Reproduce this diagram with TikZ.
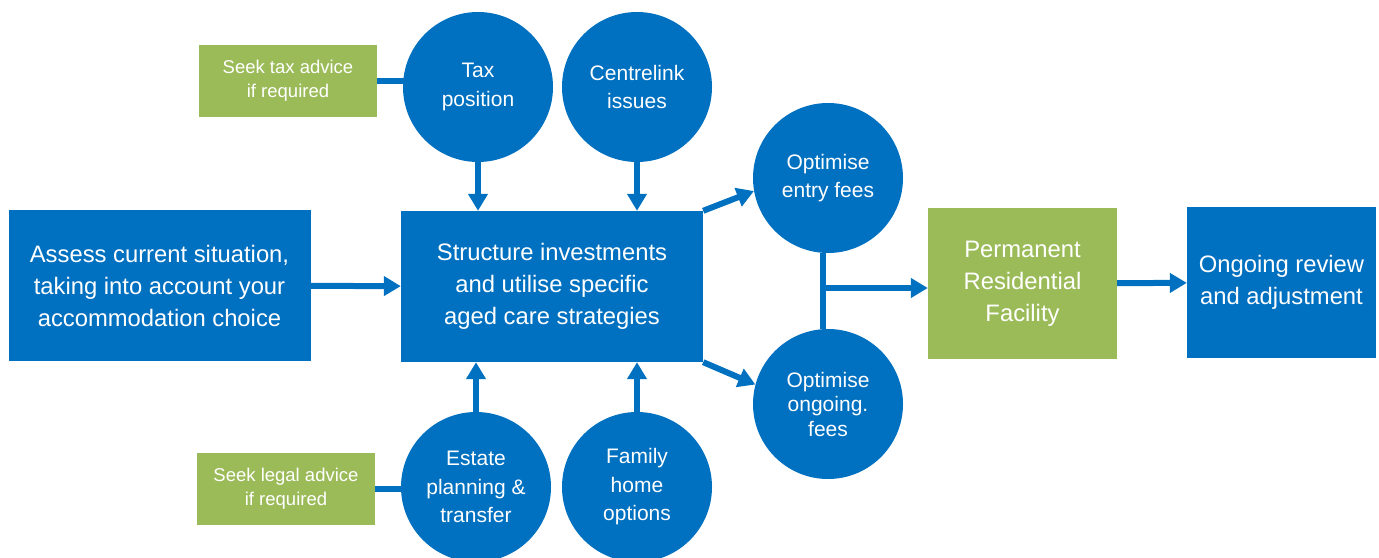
\documentclass[tikz,border=0pt]{standalone}
\usepackage{fontspec}
\setmainfont{Liberation Sans}
\usetikzlibrary{arrows.meta}
\definecolor{cblue}{RGB}{0,112,192}
\definecolor{cgreen}{RGB}{155,187,89}
\tikzset{
  box/.style={fill=cblue, text=white, minimum width=302pt, minimum height=151pt,
    inner sep=0pt, align=center, font=\fontsize{23.8}{32}\selectfont},
  gbox/.style={box, fill=cgreen, minimum width=189pt},
  bub/.style={circle, fill=cblue, text=white, minimum size=150pt, inner sep=0pt,
    align=center, font=\fontsize{21}{28.5}\selectfont},
  note/.style={fill=cgreen, text=white, minimum width=178pt, minimum height=72pt,
    inner sep=0pt, align=center, font=\fontsize{18.5}{24}\selectfont},
  link/.style={draw=cblue, line width=6pt},
  arrow/.style={link, -{Triangle[length=17pt,width=19pt]}}
}
\begin{document}
\begin{tikzpicture}[x=1pt, y=-1pt]
    \useasboundingbox (0,0) rectangle (1379,557);
    \node[box] (assess) at (159.5,285.5) {Assess current situation,\\taking into account your\\accommodation choice};
    \node[box] (struct) at (552,286.5) {Structure investments\\and utilise specific\\aged care strategies};
    \node[bub] (tax) at (478,87) {Tax\\position};
    \node[bub] (centre) at (637,87) {Centrelink\\issues};
    \node[bub] (estate) at (476,487) {Estate\\planning \&\\transfer};
    \node[bub] (family) at (637,487) {Family\\home\\options};
    \node[bub] (entry) at (828,178) {Optimise\\entry fees};
    \node[bub, font=\fontsize{21}{24.5}\selectfont] (ongo) at (828,404) {Optimise\\ongoing.\\fees};
    \node[gbox] (resid) at (1022.5,283.5) {Permanent\\Residential\\Facility};
    \node[box, minimum width=189pt] (review) at (1281.5,282.5) {Ongoing review\\and adjustment};
    \node[note] (taxnote) at (288,80.5) {Seek tax advice\\if required};
    \node[note] (legal) at (286,489) {Seek legal advice\\if required};
    \coordinate (join) at (823,288);

    % advice notes
    \draw[link, shorten >=-3pt] (taxnote.east) -- (taxnote.east -| tax.west);
    \draw[link, shorten >=-3pt] (legal.east) -- (legal.east -| estate.west);

    % into the middle box
    \draw[arrow] (assess) -- (struct);
    \draw[arrow] (tax) -- (tax |- struct.north);
    \draw[arrow] (centre) -- (centre |- struct.north);
    \draw[arrow] (estate) -- (estate |- struct.south);
    \draw[arrow] (family) -- (family |- struct.south);

    % fees and onwards
    \draw[arrow] (struct.north east) -- (entry.190);
    \draw[arrow] (struct.south east) -- (ongo.165);
    \draw[link] (entry.south -| join) -- (ongo.north -| join);
    \draw[arrow] (join) -- (join -| resid.west);
    \draw[arrow] (resid) -- (review);
\end{tikzpicture}
\end{document}
